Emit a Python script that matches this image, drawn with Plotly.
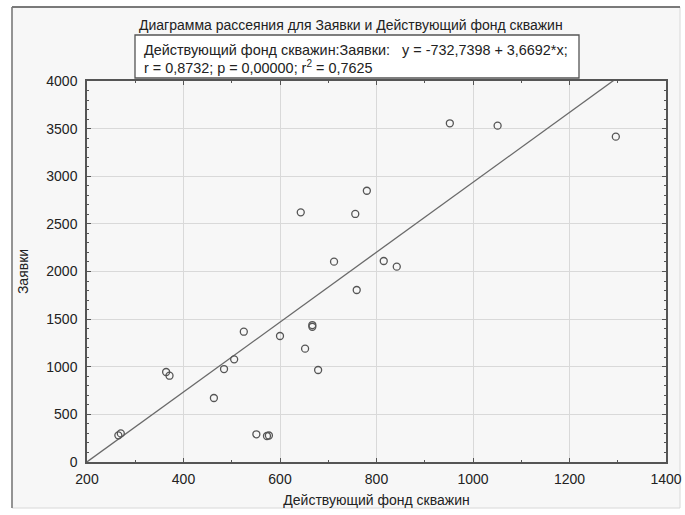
import plotly.graph_objects as go

# Data
fond = [265, 270, 364, 371, 463, 484, 505, 525, 551, 573, 577, 600, 643, 652,
        667, 667, 679, 712, 756, 759, 780, 815, 842, 952, 1051, 1296]
zayavki = [280, 300, 945, 906, 672, 976, 1078, 1368, 291, 273, 278, 1323, 2621, 1190,
           1438, 1420, 966, 2103, 2604, 1806, 2848, 2110, 2051, 3556, 3531, 3416]

intercept = -732.7398
slope = 3.6692
x_range = [200, 1400]
y_range = [0, 4000]

title_text = "Диаграмма рассеяния для Заявки и Действующий фонд скважин"
eq_line1 = "Действующий фонд скважин:Заявки:\u00a0\u00a0\u00a0y = -732,7398 + 3,6692*x;"
eq_line2 = "r = 0,8732; p = 0,00000; r<sup>2</sup> = 0,7625"
x_title = "Действующий фонд скважин"
y_title = "Заявки"

FONT = "Liberation Sans, Arial, sans-serif"

line_x = x_range
line_y = [intercept + slope * v for v in line_x]

fig = go.Figure()
fig.add_trace(go.Scatter(
    x=line_x, y=line_y, mode="lines",
    line=dict(color="#6a6a6a", width=1.3), hoverinfo="skip", showlegend=False))
fig.add_trace(go.Scatter(
    x=fond, y=zayavki, mode="markers",
    marker=dict(symbol="circle-open", size=7, color="#555555", line=dict(width=1.3)),
    showlegend=False))

W, H = 685, 515
# plot area in window pixels
PL, PR, PT, PB = 87, 666, 81, 462
L, T = PL, PT
R, B = W - PR, H - PB
pw, ph = PR - PL, PB - PT


def px(xp):
    return (xp - PL) / pw


def py(yp):
    return (PB - yp) / ph


shapes = [
    dict(type="rect", xref="paper", yref="paper", x0=px(12), x1=px(680), y0=py(508), y1=py(7),
         fillcolor="#f7f7f7", line=dict(color="#d8d8d8", width=1), layer="below"),
    dict(type="line", xref="paper", yref="paper", x0=px(12), x1=px(680), y0=py(7), y1=py(7),
         line=dict(color="#555555", width=1.5), layer="below"),
    dict(type="line", xref="paper", yref="paper", x0=px(12), x1=px(12), y0=py(508), y1=py(7),
         line=dict(color="#777777", width=1.5), layer="below"),
    dict(type="rect", xref="paper", yref="paper", x0=px(135), x1=px(579), y0=py(78), y1=py(35),
         fillcolor="white", line=dict(color="#555555", width=1.3), layer="above"),
]

annotations = [
    dict(text=title_text, xref="paper", yref="paper", x=px(351), y=py(25),
         showarrow=False, xanchor="center", yanchor="middle",
         font=dict(family=FONT, size=14, color="#222222")),
    dict(text=eq_line1, xref="paper", yref="paper", x=px(142), y=py(50),
         showarrow=False, xanchor="left", yanchor="middle",
         font=dict(family=FONT, size=14.4, color="#222222")),
    dict(text=eq_line2, xref="paper", yref="paper", x=px(142), y=py(67),
         showarrow=False, xanchor="left", yanchor="middle",
         font=dict(family=FONT, size=14.4, color="#222222")),
]

axis_common = dict(
    showline=True, linecolor="#555555", linewidth=1.5, mirror="ticks",
    ticks="inside", ticklen=4, tickcolor="#555555", automargin=False,
    ticklabeloverflow="allow",
    showgrid=True, gridcolor="#d9d9d9", gridwidth=1, zeroline=False,
    tickfont=dict(family=FONT, size=14, color="#222222"),
)

fig.update_layout(
    width=W, height=H,
    margin=dict(l=L, r=R, t=T, b=B, pad=0),
    paper_bgcolor="white", plot_bgcolor="white",
    shapes=shapes, annotations=annotations,
    xaxis=dict(range=x_range, dtick=200, tick0=200, ticklabelstandoff=3,
               title=dict(text=x_title, font=dict(family=FONT, size=14, color="#222222"), standoff=10),
               minor=dict(ticks="inside", ticklen=2, dtick=100, tickcolor="#555555", showgrid=False),
               **axis_common),
    yaxis=dict(range=y_range, dtick=500, ticklabelstandoff=5,
               title=dict(text=y_title, font=dict(family=FONT, size=14, color="#222222"), standoff=14),
               minor=dict(ticks="inside", ticklen=2, dtick=100, tickcolor="#555555", showgrid=False),
               **axis_common),
)

# remove the default 8px page margin so the figure fills the window exactly
fig.write_html("out.html",
               config={"displayModeBar": False},
               post_script="document.body.style.margin='0';document.body.style.overflow='hidden';")
